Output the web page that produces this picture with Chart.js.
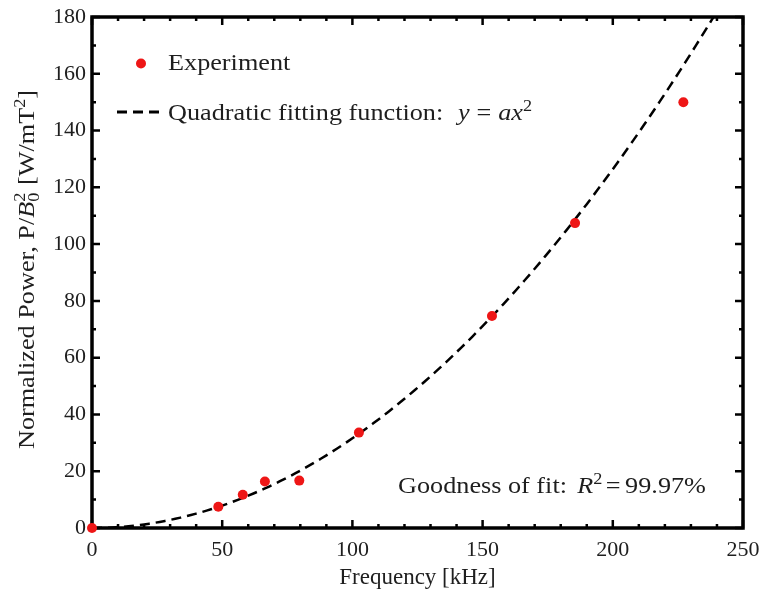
<!DOCTYPE html>
<html>
<head>
<meta charset="utf-8">
<script src="https://cdn.jsdelivr.net/npm/chart.js@4.4.1/dist/chart.umd.min.js"></script>
<style>
  html, body { margin: 0; padding: 0; background: #ffffff; }
  #wrap { width: 764px; height: 596px; }
</style>
</head>
<body>
<div id="wrap"><canvas id="c" width="764" height="596"></canvas></div>
<script>
// Measured power per unit field squared against drive frequency
const frequencyKHz    = [0, 48.5, 57.9, 66.4, 79.6, 102.5, 153.6, 185.5, 227.1];
const normalizedPower = [0, 7.5, 11.7, 16.4, 16.7, 33.6, 74.7, 107.4, 150.0];

// Axis ranges and labelled ticks
const xTickValues = [0, 50, 100, 150, 200, 250];
const yTickValues = [0, 20, 40, 60, 80, 100, 120, 140, 160, 180];
const xMinorStep = 10;
const yMinorStep = 10;

// Quadratic fit y = a x^2 and its reported goodness of fit
const fitA = 3.16e-3;
const rSquaredText = '99.97%';

const SERIF = '"Liberation Serif", "Times New Roman", serif';
const INK = '#1e1e1e';
const DOT = '#ee1616';
const TEXT_SIZE = 23;
const TEXT_STRETCH = 1.14;

// Fitted curve, sampled up to where it leaves the top of the plot
const yMax = yTickValues[yTickValues.length - 1];
const xTop = Math.sqrt(yMax / fitA);
const fitPoints = [];
for (let x = 0; x < xTop; x += 2) fitPoints.push({ x: x, y: fitA * x * x });
fitPoints.push({ x: xTop, y: yMax });

// ---- rich text helpers (italics, superscripts, stacked sub/superscripts) ----
function fontFor(p, size) {
  const s = (p.pos ? Math.round(size * 0.7) : size);
  return (p.it ? 'italic ' : '') + s + 'px ' + SERIF;
}
function partWidth(ctx, p, size) {
  ctx.font = fontFor(p, size);
  if (p.stack) return Math.max(ctx.measureText(p.stack[0]).width, ctx.measureText(p.stack[1]).width) + 1;
  return ctx.measureText(p.t).width + (p.gap || 0);
}
function richWidth(ctx, parts, size) {
  let w = 0;
  for (const p of parts) w += partWidth(ctx, p, size);
  return w;
}
function drawRich(ctx, parts, size, x0) {
  let x = x0;
  ctx.textBaseline = 'alphabetic';
  ctx.textAlign = 'left';
  for (const p of parts) {
    ctx.font = fontFor(p, size);
    if (p.stack) {
      ctx.fillText(p.stack[0], x, -size * 0.38);
      ctx.fillText(p.stack[1], x, size * 0.2);
    } else {
      const dy = p.pos === 'sup' ? -size * 0.38 : (p.pos === 'sub' ? size * 0.2 : 0);
      ctx.fillText(p.t, x, dy);
    }
    x += partWidth(ctx, p, size);
  }
}
function richAt(ctx, parts, x, y, opts) {
  const size = opts.size || TEXT_SIZE;
  ctx.save();
  ctx.translate(x, y);
  if (opts.rotate) ctx.rotate(opts.rotate);
  ctx.scale(TEXT_STRETCH, 1);
  ctx.fillStyle = INK;
  const w = richWidth(ctx, parts, size);
  drawRich(ctx, parts, size, opts.center ? -w / 2 : 0);
  ctx.restore();
}

// ---- frame with inward major/minor ticks on all four sides ----
const framePlugin = {
  id: 'frame',
  beforeDatasetsDraw(chart) {
    const { ctx, chartArea: a, scales: { x, y } } = chart;
    ctx.save();
    ctx.strokeStyle = '#000';
    ctx.lineWidth = 2.5;
    ctx.lineCap = 'butt';
    const major = 8, minor = 4;
    const xMax = xTickValues[xTickValues.length - 1];
    for (let v = 0; v <= xMax + 1e-9; v += xMinorStep) {
      const px = x.getPixelForValue(v);
      const len = xTickValues.includes(v) ? major : minor;
      ctx.beginPath();
      ctx.moveTo(px, a.bottom); ctx.lineTo(px, a.bottom - len);
      ctx.moveTo(px, a.top); ctx.lineTo(px, a.top + len);
      ctx.stroke();
    }
    for (let v = 0; v <= yMax + 1e-9; v += yMinorStep) {
      const py = y.getPixelForValue(v);
      const len = yTickValues.includes(v) ? major : minor;
      ctx.beginPath();
      ctx.moveTo(a.left, py); ctx.lineTo(a.left + len, py);
      ctx.moveTo(a.right, py); ctx.lineTo(a.right - len, py);
      ctx.stroke();
    }
    ctx.lineWidth = 3.5;
    ctx.strokeRect(a.left, a.top, a.right - a.left, a.bottom - a.top);
    ctx.restore();
  }
};

// ---- legend, fit quality note and y-axis title ----
const annotationPlugin = {
  id: 'notes',
  afterDraw(chart) {
    const { ctx, chartArea: a } = chart;
    // legend: experiment marker
    ctx.save();
    ctx.fillStyle = DOT;
    ctx.beginPath();
    ctx.arc(a.left + 49, a.top + 46.5, 5, 0, Math.PI * 2);
    ctx.fill();
    // legend: dashed fit sample
    ctx.strokeStyle = '#000';
    ctx.lineWidth = 3;
    ctx.setLineDash([10, 6]);
    ctx.beginPath();
    ctx.moveTo(a.left + 25, a.top + 95);
    ctx.lineTo(a.left + 72, a.top + 95);
    ctx.stroke();
    ctx.restore();

    richAt(ctx, [{ t: 'Experiment' }], a.left + 76, a.top + 53, {});
    richAt(ctx, [
      { t: 'Quadratic fitting function:', gap: 13 },
      { t: 'y', it: true, gap: 6 },
      { t: '=', gap: 6 },
      { t: 'ax', it: true },
      { t: '2', pos: 'sup' }
    ], a.left + 76, a.top + 103, {});

    richAt(ctx, [
      { t: 'Goodness of fit:', gap: 9 },
      { t: 'R', it: true },
      { t: '2', pos: 'sup', gap: 3 },
      { t: '=', gap: 4 },
      { t: rSquaredText }
    ], a.left + 306, a.bottom - 35, {});

    // y-axis title with stacked sub/superscript on B
    richAt(ctx, [
      { t: 'Normalized Power, P/' },
      { t: 'B', it: true },
      { t: '', stack: ['2', '0'], pos: 'sup' },
      { t: ' [W/mT' },
      { t: '2', pos: 'sup' },
      { t: ']' }
    ], 34, (a.top + a.bottom) / 2 - 3, { rotate: -Math.PI / 2, center: true });
  }
};

const ctx = document.getElementById('c').getContext('2d');
new Chart(ctx, {
  type: 'scatter',
  data: {
    datasets: [
      {
        label: 'Experiment',
        data: frequencyKHz.map((f, i) => ({ x: f, y: normalizedPower[i] })),
        backgroundColor: DOT,
        borderColor: DOT,
        borderWidth: 0,
        pointRadius: 5,
        pointHoverRadius: 5,
        clip: false
      },
      {
        label: 'Quadratic fitting function',
        data: fitPoints,
        showLine: true,
        borderColor: '#000',
        borderWidth: 2.5,
        borderDash: [10, 6],
        pointRadius: 0,
        tension: 0,
        fill: false
      }
    ]
  },
  options: {
    responsive: false,
    animation: false,
    events: [],
    layout: { padding: { left: 0, right: 21, top: 17, bottom: 0 } },
    plugins: {
      legend: { display: false },
      tooltip: { enabled: false }
    },
    scales: {
      x: {
        type: 'linear',
        min: 0,
        max: xTickValues[xTickValues.length - 1],
        afterBuildTicks: s => { s.ticks = xTickValues.map(v => ({ value: v })); },
        afterFit: s => { s.height = 68; s.paddingLeft = 0; s.paddingRight = 0; },
        grid: { display: false, drawTicks: false },
        border: { display: false },
        ticks: {
          padding: 9,
          color: INK,
          font: { family: SERIF, size: 22 }
        },
        title: {
          display: true,
          text: 'Frequency [kHz]',
          color: INK,
          font: { family: SERIF, size: 23 },
          padding: { top: 0, bottom: 4 }
        }
      },
      y: {
        type: 'linear',
        min: 0,
        max: yMax,
        afterBuildTicks: s => { s.ticks = yTickValues.map(v => ({ value: v })); },
        afterFit: s => { s.width = 92; s.paddingTop = 0; s.paddingBottom = 0; },
        grid: { display: false, drawTicks: false },
        border: { display: false },
        ticks: {
          padding: 6,
          color: INK,
          font: { family: SERIF, size: 22 }
        }
      }
    }
  },
  plugins: [framePlugin, annotationPlugin]
});
</script>
</body>
</html>
